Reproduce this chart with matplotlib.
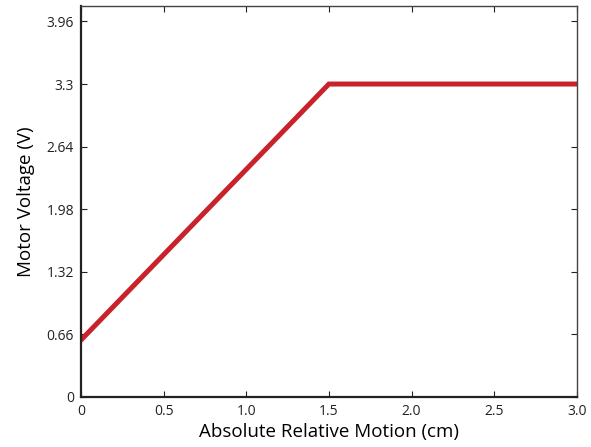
import numpy as np
import matplotlib
matplotlib.use("Agg")
import matplotlib.pyplot as plt

# motor voltage vs. relative motion: linear ramp then saturates at 3.3 V
motion_cm = [0.0, 1.5, 3.0]
voltage_v = [0.6, 3.3, 3.3]

x_ticks = [0, 0.5, 1.0, 1.5, 2.0, 2.5, 3.0]
x_labels = ["0", "0.5", "1.0", "1.5", "2.0", "2.5", "3.0"]
y_ticks = [0, 0.66, 1.32, 1.98, 2.64, 3.3, 3.96]
y_labels = ["0", "0.66", "1.32", "1.98", "2.64", "3.3", "3.96"]

plt.rcParams["font.family"] = ["Open Sans", "DejaVu Sans"]

fig = plt.figure(figsize=(5.91, 4.47), dpi=100)
ax = fig.add_axes([0.137, 0.112, 0.839, 0.875])

ax.plot(motion_cm, voltage_v, color="#c8232b", linewidth=3.6, solid_joinstyle="miter")

ax.set_xlim(0, 3.0)
ax.set_ylim(0, 4.125)
ax.set_xticks(x_ticks)
ax.set_xticklabels(x_labels)
ax.set_yticks(y_ticks)
ax.set_yticklabels(y_labels)
ax.tick_params(direction="in", top=True, right=True, length=4, width=0.8,
               labelsize=10, colors="#222222", pad=5)

for side in ["left", "bottom"]:
    ax.spines[side].set_linewidth(1.6)
    ax.spines[side].set_color("#222222")
for side in ["top", "right"]:
    ax.spines[side].set_linewidth(1.0)
    ax.spines[side].set_color("#444444")

ax.set_xlabel("Absolute Relative Motion (cm)", fontsize=13.5, labelpad=3)
ax.set_ylabel("Motor Voltage (V)", fontsize=13.5, labelpad=8)

fig.savefig("out.png", dpi=100)
